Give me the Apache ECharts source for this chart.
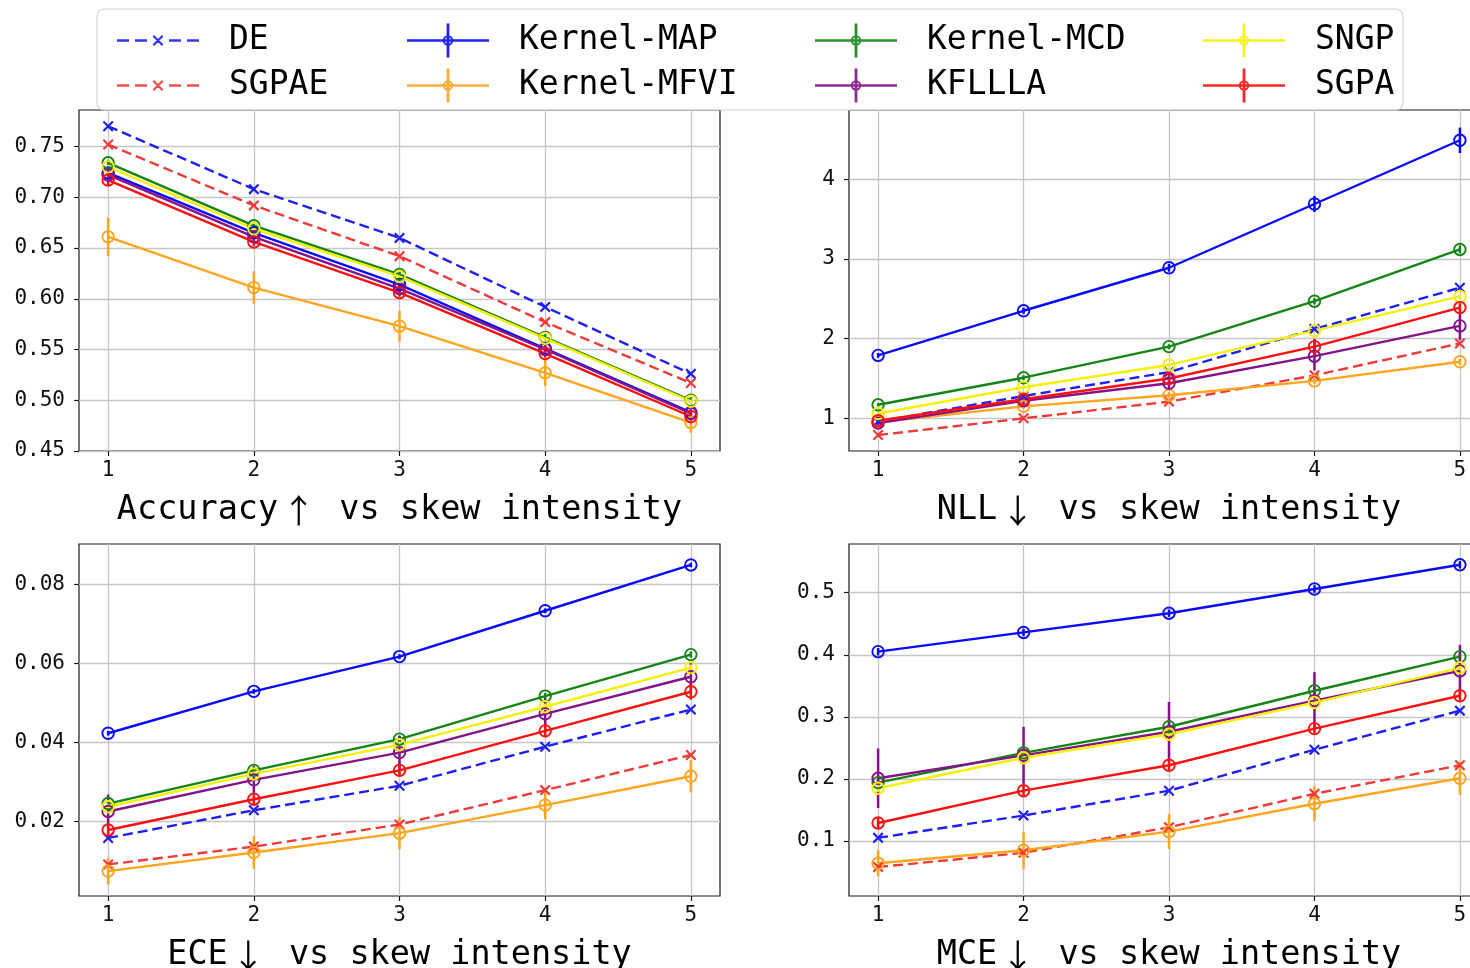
<!DOCTYPE html>
<html>
<head>
<meta charset="utf-8">
<script src="https://cdn.jsdelivr.net/npm/echarts@6/dist/echarts.min.js"></script>
<style>
  html, body { margin: 0; padding: 0; background: #fff; }
  #chart { width: 1470px; height: 968px; }
</style>
</head>
<body>
<div id="chart"></div>
<script>
// ---- data -------------------------------------------------------------
const SKEW = [1, 2, 3, 4, 5];
const METHODS = ['DE', 'SGPAE', 'Kernel-MAP', 'Kernel-MFVI', 'Kernel-MCD', 'KFLLLA', 'SNGP', 'SGPA'];

// Accuracy
const ACC_DE     = [0.770, 0.708, 0.660, 0.592, 0.526];
const ACC_SGPAE  = [0.752, 0.692, 0.642, 0.577, 0.517];
const ACC_MAP    = [0.724, 0.665, 0.614, 0.551, 0.488];
const ACC_MFVI   = [0.661, 0.611, 0.573, 0.527, 0.478];
const ACC_MCD    = [0.734, 0.672, 0.624, 0.562, 0.500];
const ACC_KFLLLA = [0.722, 0.661, 0.610, 0.550, 0.487];
const ACC_SNGP   = [0.730, 0.669, 0.622, 0.561, 0.499];
const ACC_SGPA   = [0.717, 0.656, 0.606, 0.546, 0.484];
const ACC_MAP_ERR    = [0.003, 0.003, 0.003, 0.003, 0.003];
const ACC_MFVI_ERR   = [0.019, 0.016, 0.015, 0.013, 0.010];
const ACC_MCD_ERR    = [0.003, 0.003, 0.003, 0.003, 0.003];
const ACC_KFLLLA_ERR = [0.004, 0.004, 0.004, 0.004, 0.004];
const ACC_SNGP_ERR   = [0.002, 0.002, 0.002, 0.002, 0.002];
const ACC_SGPA_ERR   = [0.005, 0.004, 0.004, 0.004, 0.004];

// NLL
const NLL_DE     = [0.96, 1.28, 1.58, 2.12, 2.64];
const NLL_SGPAE  = [0.79, 1.00, 1.21, 1.54, 1.94];
const NLL_MAP    = [1.79, 2.35, 2.89, 3.69, 4.49];
const NLL_MFVI   = [0.95, 1.15, 1.29, 1.47, 1.71];
const NLL_MCD    = [1.17, 1.51, 1.90, 2.47, 3.12];
const NLL_KFLLLA = [0.94, 1.22, 1.44, 1.78, 2.16];
const NLL_SNGP   = [1.06, 1.39, 1.67, 2.10, 2.53];
const NLL_SGPA   = [0.97, 1.24, 1.50, 1.90, 2.39];
const NLL_MAP_ERR    = [0.03, 0.04, 0.05, 0.10, 0.16];
const NLL_MFVI_ERR   = [0.03, 0.03, 0.04, 0.04, 0.04];
const NLL_MCD_ERR    = [0.02, 0.03, 0.03, 0.04, 0.05];
const NLL_KFLLLA_ERR = [0.03, 0.05, 0.08, 0.18, 0.18];
const NLL_SNGP_ERR   = [0.02, 0.02, 0.02, 0.02, 0.03];
const NLL_SGPA_ERR   = [0.03, 0.04, 0.06, 0.10, 0.08];

// ECE
const ECE_DE     = [0.0159, 0.0229, 0.0291, 0.0390, 0.0484];
const ECE_SGPAE  = [0.0092, 0.0137, 0.0193, 0.0280, 0.0369];
const ECE_MAP    = [0.0424, 0.0530, 0.0618, 0.0734, 0.0850];
const ECE_MFVI   = [0.0075, 0.0122, 0.0171, 0.0242, 0.0315];
const ECE_MCD    = [0.0246, 0.0330, 0.0409, 0.0518, 0.0623];
const ECE_KFLLLA = [0.0226, 0.0306, 0.0375, 0.0473, 0.0567];
const ECE_SNGP   = [0.0238, 0.0321, 0.0395, 0.0491, 0.0590];
const ECE_SGPA   = [0.0179, 0.0257, 0.0330, 0.0430, 0.0529];
const ECE_MAP_ERR    = [0.0006, 0.0006, 0.0006, 0.0006, 0.0006];
const ECE_MFVI_ERR   = [0.0034, 0.0041, 0.0041, 0.0036, 0.0041];
const ECE_MCD_ERR    = [0.0008, 0.0008, 0.0008, 0.0008, 0.0008];
const ECE_KFLLLA_ERR = [0.0043, 0.0036, 0.0043, 0.0039, 0.0034];
const ECE_SNGP_ERR   = [0.0008, 0.0008, 0.0008, 0.0008, 0.0008];
const ECE_SGPA_ERR   = [0.0012, 0.0012, 0.0014, 0.0016, 0.0020];

// MCE
const MCE_DE     = [0.105, 0.141, 0.181, 0.247, 0.310];
const MCE_SGPAE  = [0.058, 0.081, 0.122, 0.176, 0.222];
const MCE_MAP    = [0.405, 0.436, 0.467, 0.506, 0.545];
const MCE_MFVI   = [0.064, 0.085, 0.115, 0.160, 0.201];
const MCE_MCD    = [0.194, 0.242, 0.284, 0.342, 0.397];
const MCE_KFLLLA = [0.201, 0.238, 0.276, 0.326, 0.374];
const MCE_SNGP   = [0.185, 0.234, 0.272, 0.323, 0.379];
const MCE_SGPA   = [0.129, 0.181, 0.222, 0.281, 0.334];
const MCE_MAP_ERR    = [0.006, 0.006, 0.006, 0.006, 0.006];
const MCE_MFVI_ERR   = [0.021, 0.030, 0.028, 0.028, 0.027];
const MCE_MCD_ERR    = [0.006, 0.006, 0.006, 0.006, 0.006];
const MCE_KFLLLA_ERR = [0.048, 0.046, 0.048, 0.046, 0.042];
const MCE_SNGP_ERR   = [0.006, 0.006, 0.006, 0.006, 0.006];
const MCE_SGPA_ERR   = [0.008, 0.008, 0.008, 0.008, 0.008];

// tick values
const ACC_TICKS = [0.45, 0.50, 0.55, 0.60, 0.65, 0.70, 0.75];
const NLL_TICKS = [1, 2, 3, 4];
const ECE_TICKS = [0.02, 0.04, 0.06, 0.08];
const MCE_TICKS = [0.1, 0.2, 0.3, 0.4, 0.5];

// ---- styling ----------------------------------------------------------
const COLORS = {
  'DE': '#1f1ff5', 'SGPAE': '#f03a3a', 'Kernel-MAP': '#0a0aff', 'Kernel-MFVI': '#ffa51f',
  'Kernel-MCD': '#158515', 'KFLLLA': '#85128a', 'SNGP': '#f5f00a', 'SGPA': '#ff1010'
};
const DASHED = { 'DE': true, 'SGPAE': true };
const FONT = 'DejaVu Sans Mono';

const X_MARK = 'path://M0 1.4L1.4 0L10 8.6L8.6 10Z M8.6 0L10 1.4L1.4 10L0 8.6Z';
// legend handles: line + vertical error bar + hollow marker, or dashed line + cross
const ICON_SOLID = 'path://M0 15.7H82V18.3H0Z M39.6 0H42.4V34H39.6Z ' +
  'M46.2 17A5.2 5.2 0 1 1 35.8 17A5.2 5.2 0 1 1 46.2 17Z M44.2 17A3.2 3.2 0 1 0 37.8 17A3.2 3.2 0 1 0 44.2 17Z';
const ICON_DASH = 'path://M41 0L41 0 M41 34L41 34 ' +
  'M0 15.7H12V18.3H0Z M18 15.7H30V18.3H18Z M52 15.7H64V18.3H52Z M70 15.7H82V18.3H70Z ' +
  'M35.5 13.1L37.1 11.5L46.5 20.9L44.9 22.5Z M44.9 11.5L46.5 13.1L37.1 22.5L35.5 20.9Z';

const PANELS = [
  {
    label: 'Accuracy', arrow: '↑', ticks: ACC_TICKS, min: 0.45, max: 0.786, digits: 2, nameGap: 42,
    grid: { left: 79, width: 641, top: 110, height: 341 },
    mean: { 'DE': ACC_DE, 'SGPAE': ACC_SGPAE, 'Kernel-MAP': ACC_MAP, 'Kernel-MFVI': ACC_MFVI,
            'Kernel-MCD': ACC_MCD, 'KFLLLA': ACC_KFLLLA, 'SNGP': ACC_SNGP, 'SGPA': ACC_SGPA },
    err: { 'Kernel-MAP': ACC_MAP_ERR, 'Kernel-MFVI': ACC_MFVI_ERR, 'Kernel-MCD': ACC_MCD_ERR,
           'KFLLLA': ACC_KFLLLA_ERR, 'SNGP': ACC_SNGP_ERR, 'SGPA': ACC_SGPA_ERR }
  },
  {
    label: 'NLL', arrow: '↓', ticks: NLL_TICKS, min: 0.59, max: 4.87, digits: 0, nameGap: 42,
    grid: { left: 849, width: 640, top: 110, height: 341 },
    mean: { 'DE': NLL_DE, 'SGPAE': NLL_SGPAE, 'Kernel-MAP': NLL_MAP, 'Kernel-MFVI': NLL_MFVI,
            'Kernel-MCD': NLL_MCD, 'KFLLLA': NLL_KFLLLA, 'SNGP': NLL_SNGP, 'SGPA': NLL_SGPA },
    err: { 'Kernel-MAP': NLL_MAP_ERR, 'Kernel-MFVI': NLL_MFVI_ERR, 'Kernel-MCD': NLL_MCD_ERR,
           'KFLLLA': NLL_KFLLLA_ERR, 'SNGP': NLL_SNGP_ERR, 'SGPA': NLL_SGPA_ERR }
  },
  {
    label: 'ECE', arrow: '↓', ticks: ECE_TICKS, min: 0.0012, max: 0.0903, digits: 2, nameGap: 42,
    grid: { left: 79, width: 641, top: 544, height: 352 },
    mean: { 'DE': ECE_DE, 'SGPAE': ECE_SGPAE, 'Kernel-MAP': ECE_MAP, 'Kernel-MFVI': ECE_MFVI,
            'Kernel-MCD': ECE_MCD, 'KFLLLA': ECE_KFLLLA, 'SNGP': ECE_SNGP, 'SGPA': ECE_SGPA },
    err: { 'Kernel-MAP': ECE_MAP_ERR, 'Kernel-MFVI': ECE_MFVI_ERR, 'Kernel-MCD': ECE_MCD_ERR,
           'KFLLLA': ECE_KFLLLA_ERR, 'SNGP': ECE_SNGP_ERR, 'SGPA': ECE_SGPA_ERR }
  },
  {
    label: 'MCE', arrow: '↓', ticks: MCE_TICKS, min: 0.0113, max: 0.5785, digits: 1, nameGap: 42,
    grid: { left: 849, width: 640, top: 544, height: 352 },
    mean: { 'DE': MCE_DE, 'SGPAE': MCE_SGPAE, 'Kernel-MAP': MCE_MAP, 'Kernel-MFVI': MCE_MFVI,
            'Kernel-MCD': MCE_MCD, 'KFLLLA': MCE_KFLLLA, 'SNGP': MCE_SNGP, 'SGPA': MCE_SGPA },
    err: { 'Kernel-MAP': MCE_MAP_ERR, 'Kernel-MFVI': MCE_MFVI_ERR, 'Kernel-MCD': MCE_MCD_ERR,
           'KFLLLA': MCE_KFLLLA_ERR, 'SNGP': MCE_SNGP_ERR, 'SGPA': MCE_SGPA_ERR }
  }
];

// ---- option -----------------------------------------------------------
const grids = [], xAxes = [], yAxes = [], series = [];
const tickStyle = { show: true, length: 5, lineStyle: { color: '#1a1a1a', width: 1.2 } };
const labelBase = { fontFamily: FONT, fontSize: 21, color: '#111' };

PANELS.forEach((p, gi) => {
  grids.push(Object.assign({
    show: true, borderColor: '#1a1a1a', borderWidth: 1.2, backgroundColor: '#fff',
    containLabel: false, outerBoundsMode: 'none'
  }, p.grid));

  xAxes.push({
    type: 'value', gridIndex: gi, min: 0.8, max: 5.2,
    axisLine: { show: false, onZero: false },
    axisTick: Object.assign({ customValues: SKEW }, tickStyle),
    axisLabel: Object.assign({ customValues: SKEW, margin: 9, formatter: v => String(v) }, labelBase),
    splitLine: { show: true, lineStyle: { color: '#c6c6c6', width: 1.3 } },
    name: p.label + '{a|' + p.arrow + '} vs skew intensity',
    nameLocation: 'middle', nameGap: p.nameGap,
    nameTextStyle: {
      fontFamily: FONT, fontSize: 33.5, color: '#000', lineHeight: 34,
      rich: { a: { fontFamily: 'Noto Sans CJK SC', fontSize: 33, padding: [0, 4, 0, 4], color: '#000' } }
    }
  });

  yAxes.push({
    type: 'value', gridIndex: gi, min: p.min, max: p.max,
    axisLine: { show: false, onZero: false },
    axisTick: Object.assign({ customValues: p.ticks }, tickStyle),
    axisLabel: Object.assign({ customValues: p.ticks, margin: 14, formatter: v => v.toFixed(p.digits) }, labelBase),
    splitLine: { show: true, lineStyle: { color: '#c6c6c6', width: 1.3 } }
  });

  METHODS.forEach(m => {
    const c = COLORS[m];
    const mean = p.mean[m];
    const err = p.err[m];
    if (err) {
      series.push({
        type: 'custom', name: m, xAxisIndex: gi, yAxisIndex: gi, silent: true, z: 2,
        data: SKEW.map((x, i) => [x, mean[i], err[i]]),
        encode: { x: 0, y: 1 },
        renderItem: (params, api) => {
          const x = api.value(0), y = api.value(1), e = api.value(2);
          const lo = api.coord([x, y - e]);
          const hi = api.coord([x, y + e]);
          return {
            type: 'line',
            shape: { x1: lo[0], y1: lo[1], x2: hi[0], y2: hi[1] },
            style: { stroke: c, lineWidth: 2.5 }
          };
        }
      });
    }
    const dashed = !!DASHED[m];
    series.push({
      type: 'line', name: m, xAxisIndex: gi, yAxisIndex: gi, z: 2,
      data: SKEW.map((x, i) => [x, mean[i]]),
      symbol: dashed ? X_MARK : 'circle',
      symbolSize: dashed ? 11 : 11.5,
      showAllSymbol: true,
      lineStyle: { color: c, width: 2.4, type: dashed ? [10, 5] : 'solid' },
      itemStyle: dashed
        ? { color: c, borderWidth: 0 }
        : { color: 'rgba(255,255,255,0)', borderColor: c, borderWidth: 1.9 },
      emphasis: { disabled: true }
    });
  });
});

// legend: four columns of two entries each
const LEGEND_COLS = [['DE', 'SGPAE'], ['Kernel-MAP', 'Kernel-MFVI'], ['Kernel-MCD', 'KFLLLA'], ['SNGP', 'SGPA']];
const LEGEND_LEFT = [112, 402, 810, 1198];
const legends = LEGEND_COLS.map((col, ci) => ({
  orient: 'vertical', left: LEGEND_LEFT[ci], top: 18, z: 12,
  itemWidth: 82, itemHeight: 34, itemGap: 10,
  selectedMode: false,
  data: col.map(n => ({
    name: n,
    icon: DASHED[n] ? ICON_DASH : ICON_SOLID,
    itemStyle: { color: COLORS[n], borderWidth: 0, opacity: 0.9 }
  })),
  textStyle: { fontFamily: FONT, fontSize: 33, color: '#000', lineHeight: 34, padding: [1, 0, 0, 25] }
}));

const option = {
  animation: false,
  backgroundColor: '#fff',
  grid: grids,
  xAxis: xAxes,
  yAxis: yAxes,
  legend: legends,
  graphic: [{
    type: 'rect', z: 10,
    shape: { x: 97, y: 9, width: 1306, height: 101, r: 7 },
    style: { fill: 'rgba(255,255,255,0.85)', stroke: '#d2d2d2', lineWidth: 1.2 }
  }],
  series: series
};

const chart = echarts.init(document.getElementById('chart'), null, { renderer: 'canvas' });
chart.setOption(option);
</script>
</body>
</html>
